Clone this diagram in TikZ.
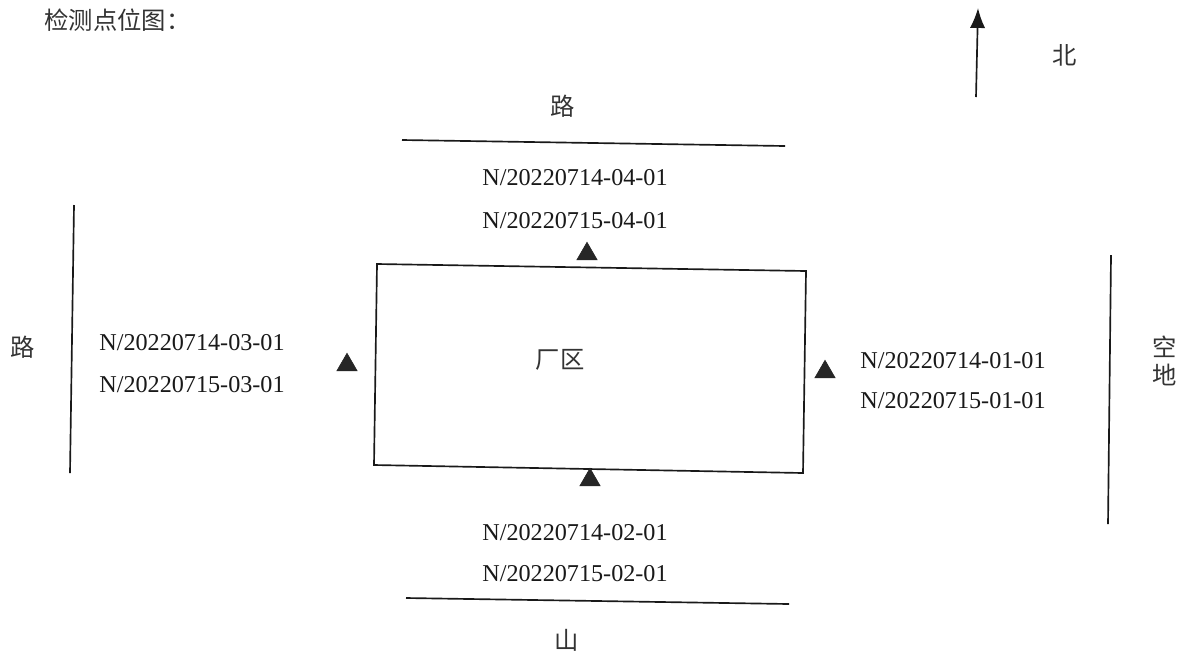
\documentclass[tikz,border=0pt]{standalone}
\usepackage{fontspec}
\setmainfont{Liberation Serif}
\newfontfamily\cjk{Noto Sans CJK SC}
\usepackage{tikz}
\usetikzlibrary{arrows.meta,positioning,shapes.geometric}
\tikzset{
  lab/.style={font=\fontsize{14.5pt}{16pt}\selectfont, inner sep=0pt, align=center, black!90},
  cjklab/.style={font=\fontsize{14.6pt}{16.8pt}\selectfont\cjk, inner sep=0pt, align=center, black!80},
  wall/.style={draw=black!90, line width=1pt},
  pt/.style={regular polygon, regular polygon sides=3, fill=black!85, draw=black!85, inner sep=0pt, minimum size=14pt},
  arr/.style={-{Latex[length=4.2mm,width=3.2mm]}, line width=1pt, black!90}
}
\begin{document}
\begin{tikzpicture}[x=0.6pt,y=-0.6pt]
\useasboundingbox (0,0) rectangle (1188,650);
\fill[white] (0,0) rectangle (1188,650);
\node[cjklab, anchor=west] (title) at (44,20) {检测点位图：};
% north arrow
\coordinate (nfoot) at (976,97);
\coordinate (nhead) at (978,8);
\draw[arr] (nfoot) -- (nhead);
\node[cjklab] (north) at (1065,55) {北};
% roads
\node[cjklab] (roadn) at (563,106) {路};
\coordinate (rna) at (402,140); \coordinate (rnb) at (785,146);
\draw[wall] (rna) -- (rnb);
\node[cjklab] (roadw) at (23,347) {路};
\coordinate (rwa) at (74,205); \coordinate (rwb) at (70,473);
\draw[wall] (rwa) -- (rwb);
\node[cjklab] (empty) at (1165,361) {空\\地};
\coordinate (rea) at (1111,255); \coordinate (reb) at (1108,524);
\draw[wall] (rea) -- (reb);
\node[cjklab] (hill) at (567,640) {山};
\coordinate (rsa) at (406,598); \coordinate (rsb) at (789,604);
\draw[wall] (rsa) -- (rsb);
% plant
\coordinate (pa) at (377,264); \coordinate (pb) at (806,271);
\coordinate (pc) at (803,473); \coordinate (pd) at (374,465);
\draw[wall] (pa) -- (pb) -- (pc) -- (pd) -- cycle;
\node[cjklab] (plant) at (560,360) {厂区};
% points
\node[pt] (p4) at (587,254) {};
\node[pt] (p3) at (347,365) {};
\node[pt] (p1) at (825,372) {};
\node[pt] (p2) at (590,480) {};
\node[lab] (n4a) at (575,178) {N/20220714-04-01};
\node[lab] (n4b) at (575,221) {N/20220715-04-01};
\node[lab] (n3a) at (192,343) {N/20220714-03-01};
\node[lab] (n3b) at (192,385) {N/20220715-03-01};
\node[lab] (n1a) at (953,361) {N/20220714-01-01};
\node[lab] (n1b) at (953,401) {N/20220715-01-01};
\node[lab] (n2a) at (575,533) {N/20220714-02-01};
\node[lab] (n2b) at (575,574) {N/20220715-02-01};
\end{tikzpicture}
\end{document}
